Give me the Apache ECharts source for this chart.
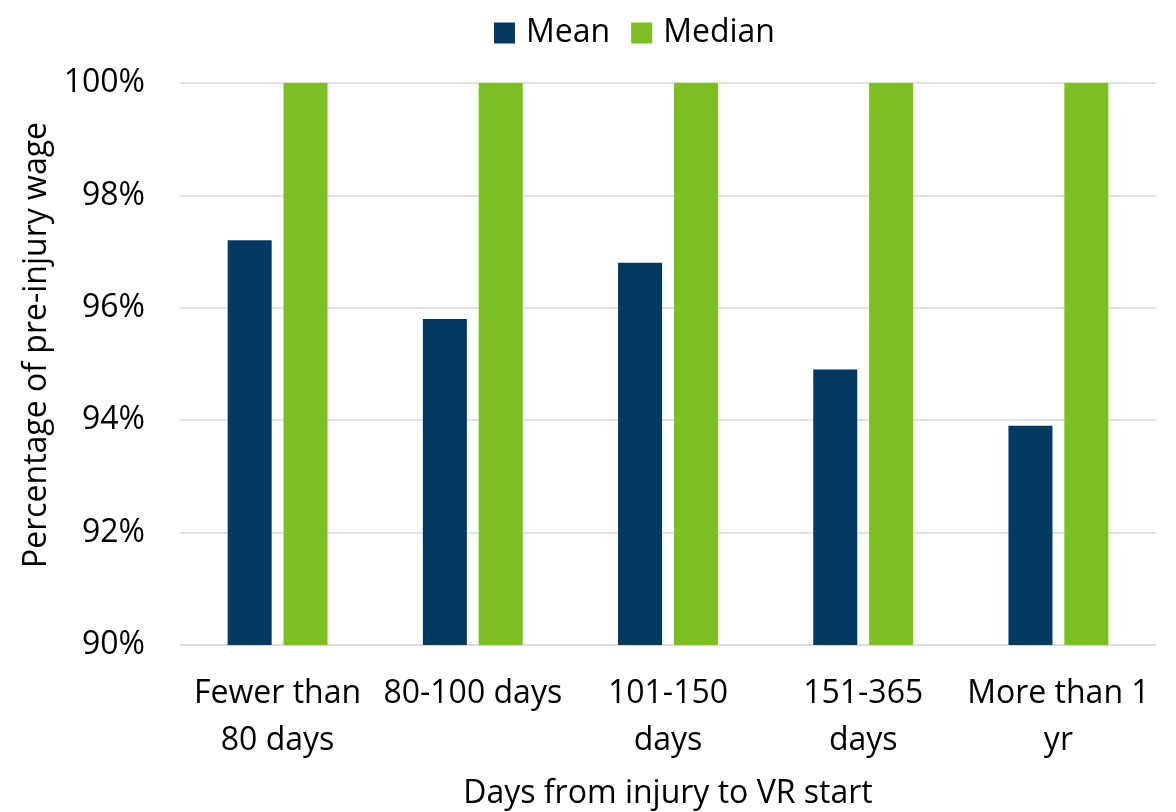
<!DOCTYPE html>
<html>
<head>
<meta charset="utf-8">
<script src="https://cdn.jsdelivr.net/npm/echarts@6/dist/echarts.min.js"></script>
<style>html,body{margin:0;padding:0;background:#fff}#c{width:1176px;height:812px}</style>
</head>
<body>
<div id="c"></div>
<script>
const categories = ["Fewer than\n80 days", "80-100 days", "101-150\ndays", "151-365\ndays", "More than 1\nyr"];
const meanValues = [97.2, 95.8, 96.8, 94.9, 93.9];
const medianValues = [100, 100, 100, 100, 100];
const yTicks = {min: 90, max: 100, interval: 2};
const FONT = "'Open Sans', 'Noto Sans', sans-serif";

const chart = echarts.init(document.getElementById('c'), null, {renderer: 'canvas'});
chart.setOption({
  animation: false,
  textStyle: {fontFamily: FONT, color: '#000'},
  legend: {
    top: 12, left: 489,
    itemWidth: 21, itemHeight: 21, itemGap: 21,
    icon: 'rect',
    textStyle: {fontFamily: FONT, fontSize: 32, color: '#000', padding: [0, 0, 0, 6]},
    data: ['Mean', 'Median']
  },
  grid: {left: 180, right: 20, top: 83, bottom: 167, containLabel: false, outerBoundsMode: 'none'},
  xAxis: {
    type: 'category',
    data: categories,
    name: 'Days from injury to VR start',
    nameLocation: 'middle',
    nameGap: 133,
    nameTextStyle: {fontFamily: FONT, fontSize: 32, color: '#000'},
    axisLine: {show: true, lineStyle: {color: '#D9D9D9', width: 1.5}},
    axisTick: {show: false},
    axisLabel: {fontFamily: FONT, fontSize: 32, color: '#000', lineHeight: 47, margin: 25, interval: 0}
  },
  yAxis: {
    type: 'value',
    min: yTicks.min, max: yTicks.max, interval: yTicks.interval,
    name: 'Percentage of pre-injury wage',
    nameLocation: 'middle',
    nameGap: 112,
    nameTextStyle: {fontFamily: FONT, fontSize: 32, color: '#000', padding: [0, 0, 0, 38]},
    axisLine: {show: false},
    axisTick: {show: false},
    axisLabel: {fontFamily: FONT, fontSize: 32, color: '#000', margin: 35, formatter: '{value}%'},
    splitLine: {lineStyle: {color: '#D9D9D9', width: 1.5}}
  },
  series: [
    {name: 'Mean', type: 'bar', data: meanValues, barWidth: 44, barGap: '27%',
     itemStyle: {color: '#023963'}},
    {name: 'Median', type: 'bar', data: medianValues, barWidth: 44,
     itemStyle: {color: '#7BBF23'}}
  ]
});
</script>
</body>
</html>
